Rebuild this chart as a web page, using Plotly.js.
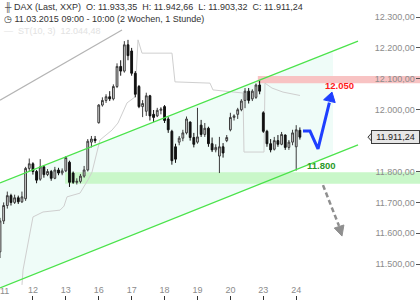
<!DOCTYPE html>
<html><head><meta charset="utf-8">
<script src="https://cdn.plot.ly/plotly-3.0.1.min.js"></script>
<style>html,body{margin:0;padding:0;background:#fff}#chart{width:420px;height:300px}</style>
</head><body><div id="chart"></div>
<script>
// Day ticks (bar index of first hourly bar of each day)
const dayTickIdx = [0, 9, 18, 27, 36, 45, 54, 63, 72, 81];
const dayLabels = ['11', '12', '13', '16', '17', '18', '19', '20', '23', '24'];

// Hourly OHLC (DAX)
const openP  = [11540,11640,11690,11722,11700,11715,11702,11712,11810,
                11825,11800,11775,11815,11790,11800,11778,11805,11795,
                11802,11830,11795,11765,11768,11785,11805,11895,11905,
                11958,12015,12030,12042,12035,12075,12140,12125,12210,
                12190,12118,12075,12010,11995,12045,11985,11980,11998,
                12010,11970,11930,11880,11895,11908,11925,11960,11910,
                11895,11950,11920,11940,11890,11870,11850,11880,11900,
                11935,11975,11985,12000,12030,12060,12035,12040,12080,
                11990,11930,11890,11872,11900,11888,11918,11878,11895,
                11880,11933.35];
const highP  = [11650,11700,11735,11728,11725,11722,11735,11815,11842,
                11830,11805,11840,11820,11808,11805,11815,11812,11810,
                11850,11835,11800,11778,11792,11818,11905,11915,11915,
                12018,12040,12050,12060,12082,12150,12160,12222,12226,
                12200,12125,12080,12031,12055,12048,11999,12006,12008,
                12015,11976,11935,11890,11915,11935,11978,11962,11925,
                12006,11967,11957,11945,11910,11888,11912,11892,11918,
                11990,11985,12006,12034,12070,12070,12066,12085,12095,
                11995,11935,11905,11912,11918,11928,11920,11902,11935,
                11950,11942.66];
const lowP   = [11520,11630,11680,11690,11695,11695,11698,11705,11802,
                11790,11762,11770,11780,11785,11770,11775,11788,11788,
                11798,11750,11760,11758,11762,11780,11800,11878,11892,
                11955,12010,12022,12028,12030,12070,12110,12120,12160,
                12110,12040,12005,11976,11980,11965,11960,11976,11985,
                11957,11925,11822,11828,11885,11898,11920,11900,11878,
                11890,11912,11912,11880,11863,11862,11795,11845,11895,
                11930,11965,11970,11995,12005,12020,12028,12035,12050,
                11925,11880,11862,11868,11880,11885,11870,11870,11885,
                11803,11903.32];
const closeP = [11640,11690,11722,11700,11715,11702,11718,11810,11825,
                11800,11772,11815,11790,11800,11778,11805,11795,11802,
                11845,11765,11765,11768,11785,11805,11898,11905,11900,
                12015,12030,12042,12035,12075,12140,12125,12210,12175,
                12118,12050,12010,12020,12045,11980,11975,11998,12002,
                11965,11935,11835,11840,11908,11925,11970,11910,11888,
                11912,11920,11940,11890,11870,11878,11880,11860,11910,
                11975,11980,12000,12028,12060,12030,12060,12080,12060,
                11930,11890,11870,11900,11888,11920,11878,11895,11925,
                11935,11911.24];

// SuperTrend ST(10,3) line (bar index, value)
const stX = [6.02,6.29,9.02,11.76,16.41,17.5,18.32,21.88,24.06,25.16,27.34,30.63,32.27,34.73,36.92,
             37.74,38.83,47.03,47.85,57.42,58.24,66.45,66.72,72.19,72.46,74.38,77.39,82.03];
const stY = [11433,11481,11653,11669,11675,11688,11718,11730,11773,11798,11902,11934,11957,12022,12041,
             12226,12183,12183,12090,12086,12064,12054,11863,11863,12086,12070,12057,12046];

// Trend channel (green) and older grey trendline
const chanX = [0, 97.9];
const chanUpperY = [11763, 12222];
const chanLowerY = [11423, 11886];
const chanFillEndX = 91.06;
const greyTrendX = [0, 33.36];
const greyTrendY = [12031, 12258];

// Zones
const resistanceZone = [12086, 12109];
const resistanceStartX = 70.5;
const supportZone = [11760, 11798];
const supportStartX = 17.8;

// Scenario arrows
const blueX = [82.86, 84.77, 86.96, 90.07];
const blueY = [11931, 11931, 11873, 12023];
const blueHeadX = [88.49, 90.78, 91.66];
const blueHeadY = [12032, 12057, 12023];
const greyArrowX = [88.32, 92.7];
const greyArrowY = [11756, 11624];
const greyHeadX = [91.41, 93.52, 94.04];
const greyHeadY = [11617, 11591, 11627];

// Labels
const targetLabel = {text: '12.050', x: 92.97, y: 12078};
const supportLabel = {text: '11.800', x: 87.91, y: 11821};
const lastPrice = 11911.24;

const yTickVals = [11400, 11500, 11600, 11700, 11800, 12000, 12100, 12200, 12300];

const xRange = [0, 114.85];
const yRange = [11384.2, 12355];

const idx = openP.map((_, i) => i);
const lerp = (ys, x) => ys[0] + (ys[1] - ys[0]) * (x - chanX[0]) / (chanX[1] - chanX[0]);
const pathOf = (xs, ys) => xs.map((x, i) => (i ? 'L ' : 'M ') + x + ' ' + ys[i]).join(' ');

const traces = [
  { x: chanX, y: chanUpperY, type: 'scatter', mode: 'lines',
    line: {color: '#4be34b', width: 1.2}, hoverinfo: 'skip' },
  { x: chanX, y: chanLowerY, type: 'scatter', mode: 'lines',
    line: {color: '#4be34b', width: 1.2}, hoverinfo: 'skip' },
  {
    type: 'candlestick', x: idx, open: openP, high: highP, low: lowP, close: closeP,
    increasing: {line: {color: '#3c3c3c', width: 1}, fillcolor: '#dedede'},
    decreasing: {line: {color: '#111', width: 1}, fillcolor: '#111'},
    whiskerwidth: 0, hoverinfo: 'skip'
  },
  { x: blueX, y: blueY, type: 'scatter', mode: 'lines',
    line: {color: '#1f3fff', width: 3}, hoverinfo: 'skip' },
  { x: blueHeadX.concat([blueHeadX[0]]), y: blueHeadY.concat([blueHeadY[0]]), type: 'scatter', mode: 'lines',
    fill: 'toself', fillcolor: '#1f3fff', line: {color: '#1f3fff', width: 1}, hoverinfo: 'skip' },
  { x: greyArrowX, y: greyArrowY, type: 'scatter', mode: 'lines',
    line: {color: '#8f8f8f', width: 2.5, dash: '5px,3px'}, hoverinfo: 'skip' },
  { x: greyHeadX.concat([greyHeadX[0]]), y: greyHeadY.concat([greyHeadY[0]]), type: 'scatter', mode: 'lines',
    fill: 'toself', fillcolor: '#8f8f8f', line: {color: '#8f8f8f', width: 1}, hoverinfo: 'skip' }
];

const font = 'Liberation Sans, Arial, sans-serif';
const fmt = v => v.toLocaleString('de-DE', {minimumFractionDigits: 2, maximumFractionDigits: 2});
const priceHalf = 19.4;

const shapes = [
  { // channel fill
    type: 'path', xref: 'x', yref: 'y', layer: 'below',
    path: pathOf([chanX[0], chanFillEndX, chanFillEndX, chanX[0]],
                 [chanUpperY[0], lerp(chanUpperY, chanFillEndX), lerp(chanLowerY, chanFillEndX), chanLowerY[0]]) + ' Z',
    fillcolor: '#effcf8', line: {width: 0}
  },
  { type: 'rect', xref: 'x', yref: 'y', layer: 'below',
    x0: resistanceStartX, x1: xRange[1], y0: resistanceZone[0], y1: resistanceZone[1],
    fillcolor: '#f8c3c3', line: {width: 0} },
  { type: 'rect', xref: 'x', yref: 'y', layer: 'below',
    x0: supportStartX, x1: xRange[1], y0: supportZone[0], y1: supportZone[1],
    fillcolor: '#c9f7c9', line: {width: 0} },
  { type: 'line', xref: 'x', yref: 'y', layer: 'below',
    x0: greyTrendX[0], x1: greyTrendX[1], y0: greyTrendY[0], y1: greyTrendY[1],
    line: {color: '#b4b4b4', width: 1.2} },
  { type: 'path', xref: 'x', yref: 'y', layer: 'below',
    path: pathOf(stX, stY), line: {color: '#cfcfcf', width: 1} },
  { // price tag pointer
    type: 'path', xref: 'paper', yref: 'y', layer: 'above',
    path: `M 0.876 ${lastPrice} L 0.889 ${lastPrice + priceHalf} L 0.889 ${lastPrice - priceHalf} Z`,
    fillcolor: '#e6e6e6', line: {color: '#3a3a3a', width: 1}
  }
];

const layout = {
  width: 420, height: 300,
  margin: {l: 0, r: 0, t: 0, b: 0},
  paper_bgcolor: '#ffffff', plot_bgcolor: '#ffffff',
  showlegend: false,
  separators: ',.',
  font: {family: font, size: 9, color: '#333'},
  xaxis: {
    range: xRange, tickvals: dayTickIdx, ticktext: dayLabels,
    ticks: 'inside', ticklen: 4, tickcolor: '#333', tickwidth: 1,
    ticklabelposition: 'inside',
    tickfont: {family: font, size: 9, color: '#8c8c8c'},
    showgrid: false, zeroline: false, showline: false,
    rangeslider: {visible: false}, fixedrange: true
  },
  yaxis: {
    side: 'right', range: yRange, tickvals: yTickVals, tickformat: ',.2f',
    ticks: 'inside', ticklen: 4, tickcolor: '#555', tickwidth: 1,
    ticklabelposition: 'inside',
    tickfont: {family: font, size: 9, color: '#8c8c8c'},
    showgrid: false, zeroline: false, showline: false, fixedrange: true
  },
  shapes: shapes,
  annotations: [
    {xref: 'paper', yref: 'paper', x: 2/420, y: 1 - 7/300, xanchor: 'left', yanchor: 'middle', showarrow: false,
     text: '<span style="color:#555">╫</span> DAX (Last, XXP)  O: 11.933,35  H: 11.942,66  L: 11.903,32  C: 11.911,24',
     font: {family: font, size: 9, color: '#333'}},
    {xref: 'paper', yref: 'paper', x: 2/420, y: 1 - 19/300, xanchor: 'left', yanchor: 'middle', showarrow: false,
     text: '◷ 11.03.2015 09:00 - 10:00 (2 Wochen, 1 Stunde)',
     font: {family: font, size: 9, color: '#333'}},
    {xref: 'paper', yref: 'paper', x: 2/420, y: 1 - 31/300, xanchor: 'left', yanchor: 'middle', showarrow: false,
     text: '—  ST(10, 3)  12.044,48',
     font: {family: font, size: 9, color: '#e2e2e2'}},
    {xref: 'x', yref: 'paper', x: dayTickIdx[0], xanchor: 'left', xshift: -1, y: 9/300, yanchor: 'middle', showarrow: false,
     borderpad: 0, text: dayLabels[0], font: {family: font, size: 9, color: '#8c8c8c'}},
    {xref: 'x', yref: 'y', x: targetLabel.x, y: targetLabel.y, showarrow: false, text: '<b>' + targetLabel.text + '</b>',
     font: {family: font, size: 9.5, color: '#ff1a1a'}},
    {xref: 'x', yref: 'y', x: supportLabel.x, y: supportLabel.y, showarrow: false, text: '<b>' + supportLabel.text + '</b>',
     font: {family: font, size: 9.5, color: '#2a9a2a'}},
    {xref: 'paper', yref: 'y', x: 1, xanchor: 'right', y: lastPrice, yanchor: 'middle', showarrow: false,
     text: fmt(lastPrice), bgcolor: '#e6e6e6', bordercolor: '#3a3a3a', borderwidth: 1, borderpad: 1,
     width: 45, height: 10, align: 'center',
     font: {family: font, size: 9, color: '#222'}}
  ]
};

Plotly.newPlot('chart', traces, layout, {staticPlot: true, displayModeBar: false});
</script>
</body></html>
